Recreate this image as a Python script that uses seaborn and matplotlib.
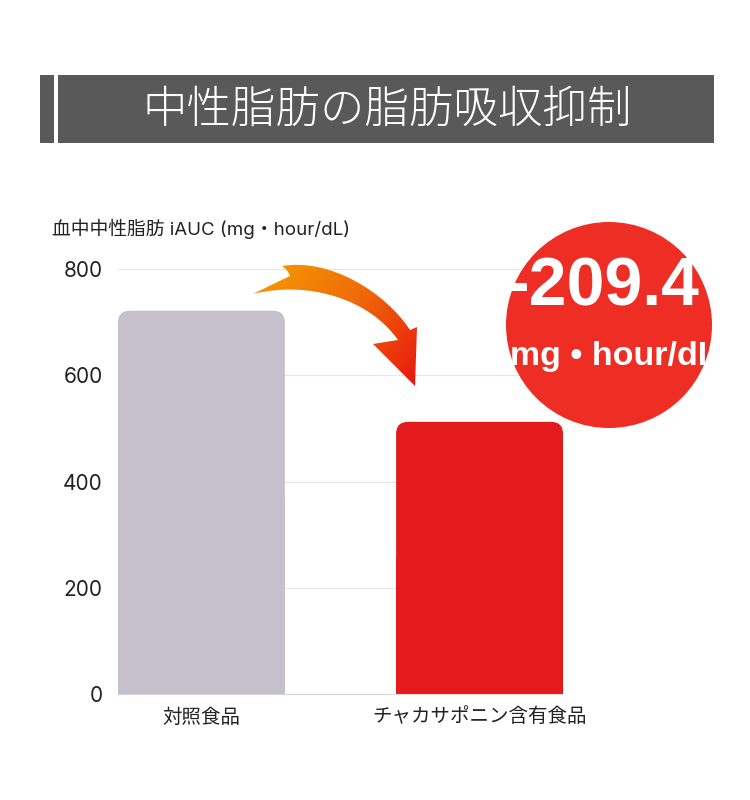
import numpy as np
import pandas as pd
import matplotlib
matplotlib.use('Agg')
import matplotlib.pyplot as plt
import seaborn as sns
from matplotlib.patches import FancyBboxPatch, Rectangle, Circle, PathPatch
from matplotlib.path import Path as MPath
from matplotlib.colors import LinearSegmentedColormap

# data
categories = ["対照食品", "チャカサポニン含有食品"]
values = [722.0, 512.6]
bar_colors = ["#C6BFCC", "#E31B1C"]
y_ticks = [0, 200, 400, 600, 800]
title = "中性脂肪の脂肪吸収抑制"
y_label = "血中中性脂肪 iAUC (mg・hour/dL)"
diff_text = "-209.4"
unit_text = "mg • hour/dL"

sns.set_theme(style="white")
plt.rcParams['font.family'] = ['Noto Sans CJK JP', 'DejaVu Sans']

W, H = 750, 800
fig = plt.figure(figsize=(W / 100, H / 100), dpi=100)
fig.patch.set_facecolor("white")

# main chart axes, placed in pixel terms
ax = fig.add_axes([118 / W, 1 - 694 / H, (563 - 118) / W, (694 - 269.3) / H])
df = pd.DataFrame({"group": categories, "value": values})
sns.barplot(data=df, x="group", y="value", hue="group", palette=bar_colors,
            width=0.6, legend=False, saturation=1, ax=ax)
ax.set_xlim(-0.3, 1.3)
ax.set_ylim(0, 800)
ax.set_yticks(y_ticks)
ax.set_xlabel("")
ax.set_ylabel("")
ax.yaxis.grid(True, color="#E6E6E6", lw=0.8)
ax.set_axisbelow(True)
for s in ["top", "right", "left"]:
    ax.spines[s].set_visible(False)
ax.spines["bottom"].set_color("#D6D6D6")
ax.spines["bottom"].set_linewidth(0.8)
ax.tick_params(axis="y", length=0, pad=11, labelsize=15, labelcolor="#222222")
ax.tick_params(axis="x", length=0, pad=9, labelsize=14, labelcolor="#222222")
for lab in ax.get_yticklabels():
    lab.set_family(["Inter", "DejaVu Sans"])

# round the top corners of the bars
p0 = ax.transData.transform((0, 0))
p1 = ax.transData.transform((1, 1))
px_x = p1[0] - p0[0]
px_y = p1[1] - p0[1]
radius_px = 12
for bar in list(ax.patches):
    x, w, h = bar.get_x(), bar.get_width(), bar.get_height()
    col = bar.get_facecolor()
    rounded = FancyBboxPatch((x, 0), w, h,
                             boxstyle=f"round,pad=0,rounding_size={radius_px / px_x}",
                             mutation_aspect=px_x / px_y,
                             facecolor=col, edgecolor="none", zorder=bar.get_zorder())
    ax.add_patch(rounded)
    bar.set_height(h * 0.5)
    bar.set_edgecolor("none")

# overlay axes in figure pixels for decorations
ov = fig.add_axes([0, 0, 1, 1], zorder=5)
ov.set_xlim(0, W)
ov.set_ylim(H, 0)
ov.axis("off")
ov.patch.set_alpha(0)

# title banner
ov.add_patch(Rectangle((40, 75), 14, 68, facecolor="#595959", edgecolor="none"))
ov.add_patch(Rectangle((58, 75), 656, 68, facecolor="#595959", edgecolor="none"))
ov.text(387, 110, title, color="white", fontsize=32, fontweight="light",
        ha="center", va="center")

# y axis label
ov.text(52, 229, y_label, color="#222222", fontsize=13.5, ha="left", va="center",
        family=["Inter", "Noto Sans CJK JP"])

# curved gradient arrow
verts = [(253, 294), (275, 283), (290, 276),
         (288, 270), (282, 266),
         (330, 258), (385, 292), (410, 330),
         (417, 327), (415, 386), (373, 344), (398, 340),
         (370, 300), (310, 280), (253, 294), (253, 294)]
codes = [MPath.MOVETO, MPath.CURVE3, MPath.CURVE3,
         MPath.CURVE3, MPath.CURVE3,
         MPath.CURVE4, MPath.CURVE4, MPath.CURVE4,
         MPath.LINETO, MPath.LINETO, MPath.LINETO, MPath.LINETO,
         MPath.CURVE4, MPath.CURVE4, MPath.CURVE4, MPath.CLOSEPOLY]
arrow = PathPatch(MPath(verts, codes), facecolor="none", edgecolor="none")
ov.add_patch(arrow)
gx, gy = np.meshgrid(np.linspace(0, 1, 200), np.linspace(0, 1, 200))
grad = (gx * 0.6 + gy * 0.4)
cmap = LinearSegmentedColormap.from_list("arr", ["#F7A600", "#F06A0A", "#E8100E"])
im = ov.imshow(grad, cmap=cmap, extent=(245, 425, 390, 255), origin="upper",
               aspect="auto", interpolation="bilinear")
im.set_clip_path(arrow)
ov.set_xlim(0, W)
ov.set_ylim(H, 0)

# red result circle
ov.add_patch(Circle((609, 325), 103, facecolor="#EE2E24", edgecolor="none"))
ov.text(603, 288, diff_text, color="white", fontsize=49, fontweight="bold",
        family="Liberation Sans", ha="center", va="center")
ov.text(614, 356, unit_text, color="white", fontsize=24.5, fontweight="bold",
        family="Liberation Sans", ha="center", va="center")

fig.savefig("out.png", dpi=100)
